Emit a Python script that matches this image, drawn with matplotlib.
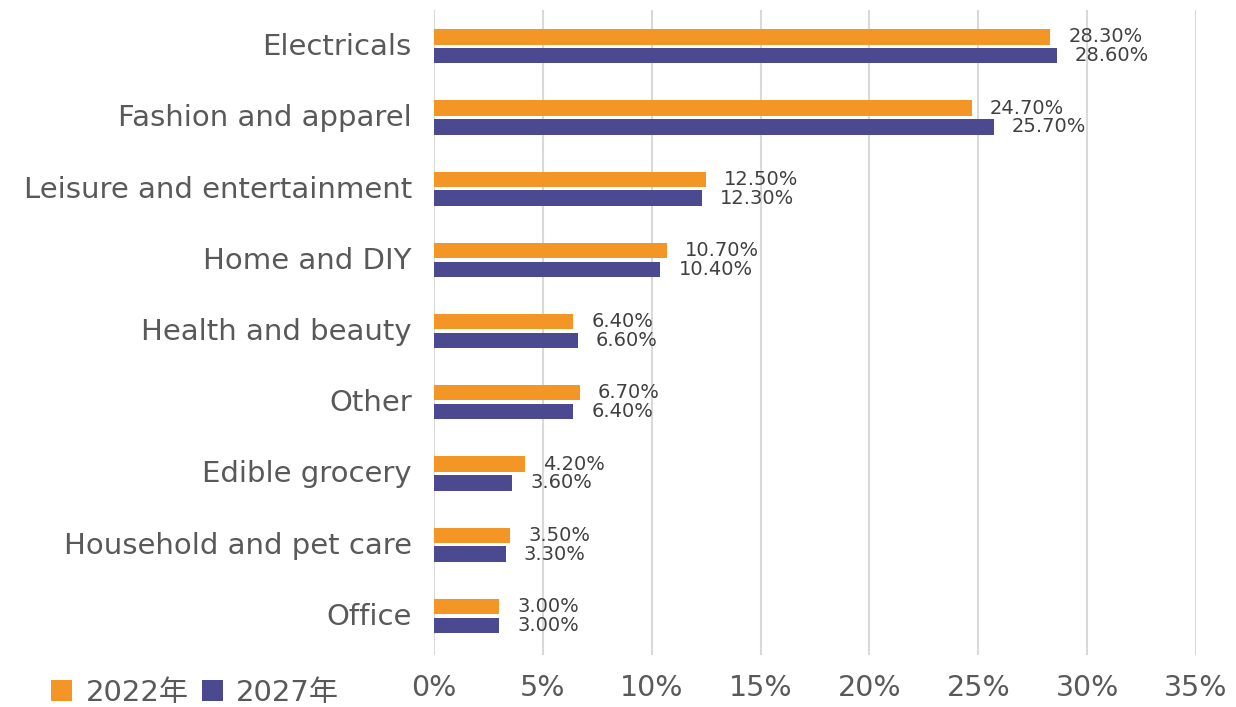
import matplotlib.pyplot as plt
import numpy as np

plt.rcParams['font.family'] = ['DejaVu Sans', 'Noto Sans CJK JP']

categories = ['Electricals', 'Fashion and apparel', 'Leisure and entertainment',
              'Home and DIY', 'Health and beauty', 'Other', 'Edible grocery',
              'Household and pet care', 'Office']
v2022 = [28.3, 24.7, 12.5, 10.7, 6.4, 6.7, 4.2, 3.5, 3.0]
v2027 = [28.6, 25.7, 12.3, 10.4, 6.6, 6.4, 3.6, 3.3, 3.0]
series_names = ['2022年', '2027年']
colors = ['#F39625', '#4B4A91']

fig = plt.figure(figsize=(12.36, 7.07), dpi=100)
ax = fig.add_axes([434 / 1236, 1 - 655 / 707, 762 / 1236, 645 / 707])

y = np.arange(len(categories))
h = 0.215
gap = 0.05
b1 = ax.barh(y - h / 2 - gap / 2, v2022, height=h, color=colors[0], label=series_names[0], zorder=3)
b2 = ax.barh(y + h / 2 + gap / 2, v2027, height=h, color=colors[1], label=series_names[1], zorder=3)

for bars, vals in ((b1, v2022), (b2, v2027)):
    for bar, v in zip(bars, vals):
        ax.annotate('%.2f%%' % v, (bar.get_width(), bar.get_y() + bar.get_height() / 2),
                    xytext=(13, 0), textcoords='offset points', va='center', ha='left',
                    fontsize=14, color='#404040')

ax.set_xlim(0, 35)
ax.set_ylim(8.55, -0.51)
ax.set_xticks(np.arange(0, 36, 5))
ax.set_xticklabels(['%d%%' % t for t in range(0, 36, 5)])
ax.set_yticks(y - 0.03)
ax.set_yticklabels(categories)
ax.tick_params(axis='x', length=0, labelsize=20.5, labelcolor='#595959', pad=14)
ax.tick_params(axis='y', length=0, labelsize=21, labelcolor='#595959', pad=16)
ax.grid(axis='x', color='#D9D9D9', linewidth=1.5, zorder=0)
for s in ax.spines.values():
    s.set_visible(False)

fig.legend(handles=[b1, b2], labels=series_names, loc='center left',
           bbox_to_anchor=(31 / 1236, 1 - 693 / 707), ncol=2, frameon=False,
           fontsize=21, labelcolor='#595959', handlelength=0.72, handleheight=0.72,
           handletextpad=0.45, columnspacing=0.45, borderpad=0.2)

fig.savefig('out.png', dpi=100)
